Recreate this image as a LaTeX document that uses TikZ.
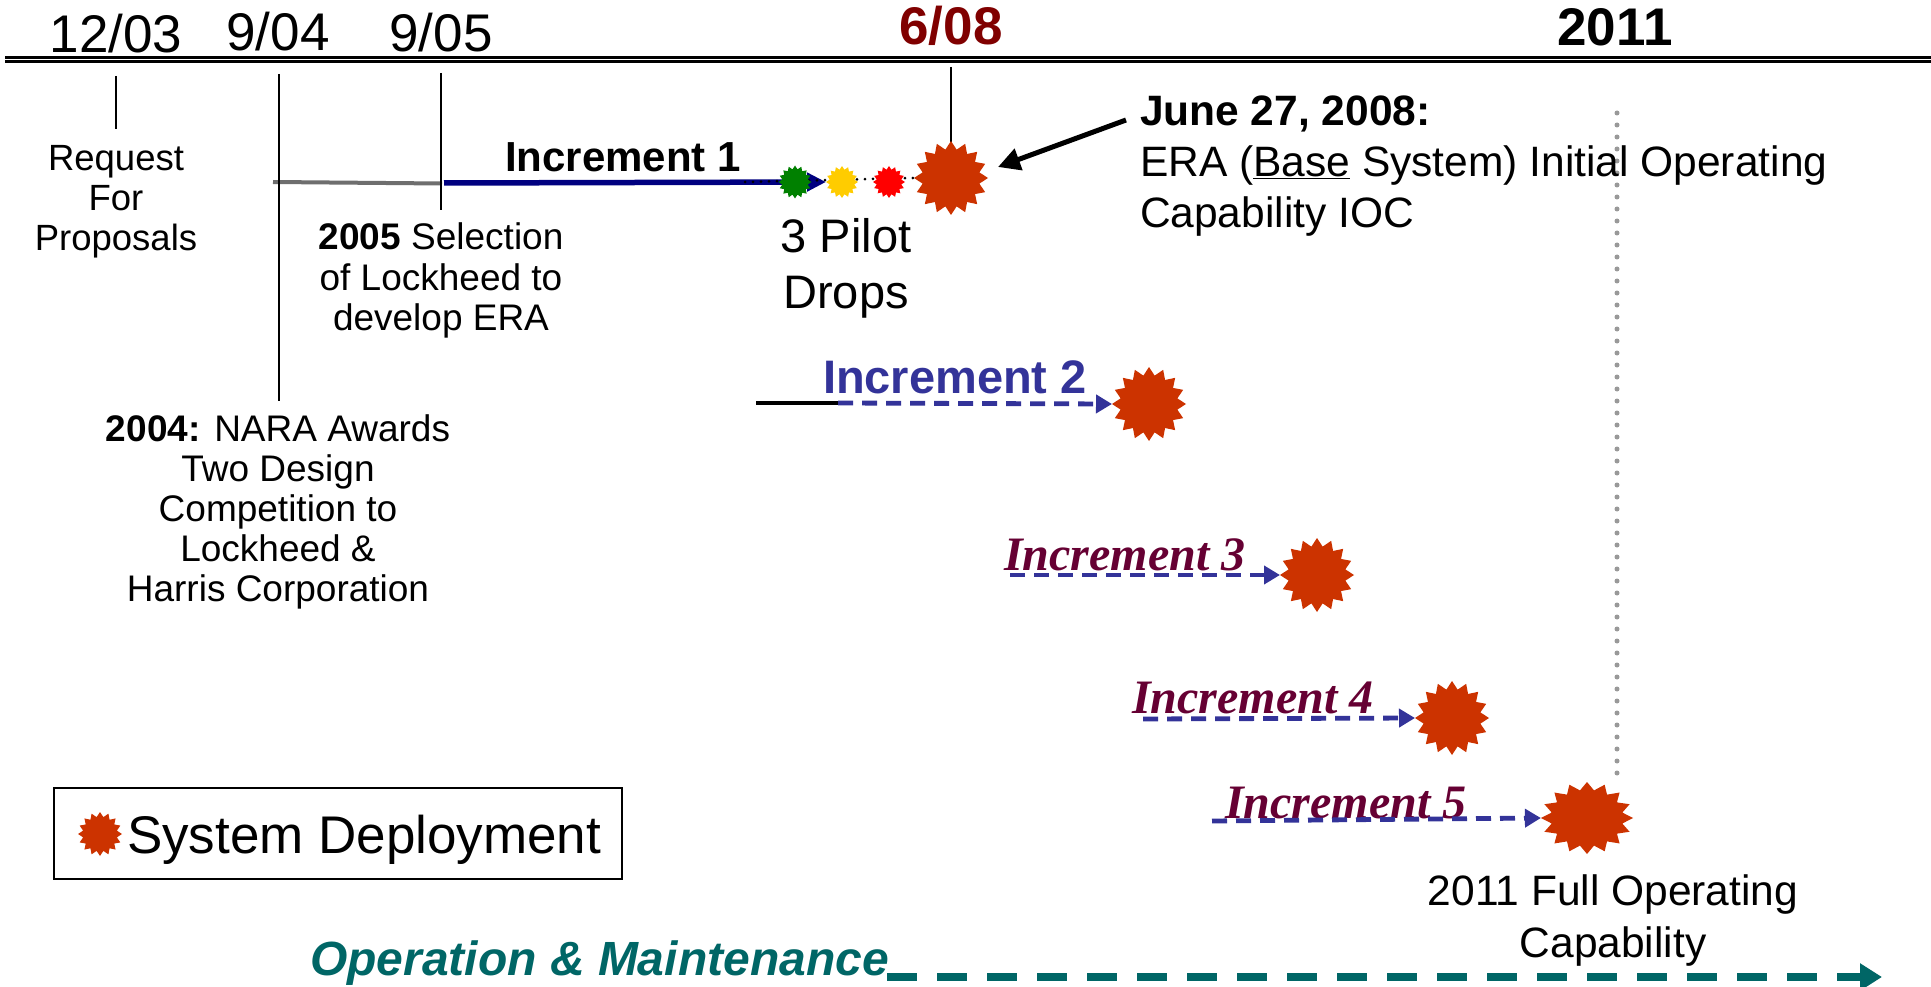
\documentclass[tikz,border=0pt]{standalone}
\usepackage{fontspec}
\setmainfont{Liberation Sans}
\newfontfamily\serifbi{Liberation Serif}
\usetikzlibrary{shapes.geometric,arrows.meta}
\pgfdeclarelayer{paper}
\pgfdeclarelayer{behind}
\pgfsetlayers{paper,behind,main}
\definecolor{cDate}{HTML}{800000}
\definecolor{cBlue}{HTML}{333399}
\definecolor{cMaroon}{HTML}{660033}
\definecolor{cTeal}{HTML}{006666}
\definecolor{cNavy}{HTML}{000080}
\definecolor{cStar}{HTML}{CC3300}
\definecolor{cYellow}{HTML}{FFCC00}
\definecolor{cGreen}{HTML}{008000}
\definecolor{cRed}{HTML}{FF0000}
\definecolor{cDots}{HTML}{999999}
\definecolor{cGrayLine}{HTML}{6E6E6E}
\newcommand{\fsz}[2]{\fontsize{#1}{#2}\selectfont}
\begin{document}
\begin{tikzpicture}[x=1pt,y=-1pt,
  every node/.style={inner sep=0pt,outer sep=0pt},
  dep/.style={star,star points=16,star point ratio=1.28,fill=cStar,draw=none,minimum size=74pt,inner sep=0pt},
  tickline/.style={line width=1.8pt,black},
  incdash/.style={cBlue,line width=4.8pt,dash pattern=on 15pt off 9pt,-{Triangle[length=16pt,width=18pt]}},
  datefont/.style={font=\fsz{53}{60}}
]
\begin{pgfonlayer}{paper}
\fill[white] (0,0) rectangle (1931,987);
\end{pgfonlayer}
\useasboundingbox (0,0) rectangle (1931,987);

% timeline
\draw[line width=2.7pt] (5,57.3) -- (1931,57.3);
\draw[line width=3pt] (5,61.8) -- (1931,61.8);

% dates
\node[anchor=base,datefont] (d1) at (116,53) {12/03};
\node[anchor=base,datefont] (d2) at (278,51) {9/04};
\node[anchor=base,datefont] (d3) at (441,52) {9/05};
\node[anchor=base,font=\bfseries\fsz{53}{60},text=cDate] (d4) at (951,45) {6/08};
\node[anchor=base,font=\bfseries\fsz{53}{60}] (d5) at (1615,46) {2011};

% ticks
\draw[tickline] (116,76) -- (116,129);
\draw[tickline] (279,74) -- (279,401);
\draw[tickline] (441,73) -- (441,210);
\draw[tickline] (951,67) -- (951,145);

% text blocks
\node[anchor=north,align=center,font=\fsz{36.5}{40}] (rfp) at (116,145) {Request\\For\\Proposals};
\node[anchor=north,align=center,font=\fsz{37}{40.5}] (sel) at (441,223) {\textbf{2005} Selection\\of Lockheed to\\develop ERA};
\node[anchor=north,align=center,font=\fsz{37}{40}] (nara) at (278,415) {\textbf{2004:} NARA Awards\\Two Design\\Competition to\\Lockheed \&\\Harris Corporation};
\node[anchor=north west,align=left,font=\fsz{42.5}{51}] (june) at (1140,96) {\textbf{June 27, 2008:}\\ERA (\underline{Base} System) Initial Operating\\Capability IOC};
\node[anchor=north,align=center,font=\fsz{47}{56}] (pilot) at (846,218) {3 Pilot\\Drops};
\node[anchor=north,align=center,font=\fsz{42.5}{52}] (foc) at (1613,875) {2011 Full Operating\\Capability};

% increments labels
\node[anchor=base west,font=\bfseries\fsz{42}{50}] (inc1) at (505,172) {Increment 1};
\node[anchor=base west,font=\bfseries\fsz{47}{50},text=cBlue] (inc2) at (823,393) {Increment 2};
\node[anchor=base west,font=\serifbi\bfseries\itshape\fsz{48}{50},text=cMaroon] (inc3) at (1004,570) {Increment 3};
\node[anchor=base west,font=\serifbi\bfseries\itshape\fsz{48}{50},text=cMaroon] (inc4) at (1132,713) {Increment 4};
\node[anchor=base west,font=\serifbi\bfseries\itshape\fsz{48}{50},text=cMaroon] (inc5) at (1225,818) {Increment 5};
\node[anchor=base west,font=\bfseries\itshape\fsz{48}{50},text=cTeal] (om) at (310,975) {Operation \& Maintenance};

% stars
\node[dep] (s0) at (951,178) {};
\node[dep,minimum size=33pt,fill=cGreen] (sg) at (795,182) {};
\node[dep,minimum size=32pt,fill=cYellow] (sy) at (842,182) {};
\node[dep,minimum size=32pt,fill=cRed] (sr) at (889,182) {};
\node[dep] (s2) at (1149,404) {};
\node[dep] (s3) at (1317,575) {};
\node[dep] (s4) at (1452,718) {};
\node[dep,minimum size=72pt,xscale=1.28] (s5) at (1587,818) {};

% legend
\node[draw,line width=2.5pt,minimum width=568pt,minimum height=91pt] (legend) at (338,833.5) {};
\node[dep,minimum size=44pt] (ls) at (100,834) {};
\node[anchor=base west,font=\fsz{53}{60}] (legtext) at (127,853) {System Deployment};

% coordinates
\coordinate (g0) at (273,182);
\coordinate (g1) at (442,183.5);
\coordinate (n0) at (444,183);
\coordinate (dot0) at (745,182);
\coordinate (jt) at (1126,120);
\coordinate (jtip) at (998,167);
\coordinate (i2b) at (756,403);
\coordinate (i2s) at (838,403);
\coordinate (i3s) at (1010,575);
\coordinate (i4s) at (1143,719);
\coordinate (i5s) at (1212,821);
\coordinate (v0) at (1617,113);
\coordinate (v1) at (1617,776);
\coordinate (oms) at (887,977);
\coordinate (ome) at (1882,977);

\begin{pgfonlayer}{behind}
\draw[line width=4pt,cGrayLine] (g0) -- (g1);
\draw[cNavy,line width=5.5pt,-{Triangle[length=19pt,width=18pt]}] (n0) -- (sy.west);
\draw[black,line width=3pt,line cap=round,dash pattern=on 0pt off 8pt] (dot0) -- (s0.west);
\draw[cDots,line width=5pt,line cap=round,dash pattern=on 0pt off 12pt] (v0) -- (v1);
\end{pgfonlayer}

\draw[black,line width=4.5pt] (i2b) -- (i2s);
\draw[incdash] (i2s) -- (s2.west);
\draw[incdash] (i3s) -- (s3.west);
\draw[incdash] (i4s) -- (s4.west);
\draw[incdash] (i5s) -- (s5.west);

\draw[line width=5pt,-{Triangle[length=22pt,width=22pt]}] (jt) -- (jtip);
\draw[cTeal,line width=8pt,dash pattern=on 30pt off 20pt,-{Triangle[length=22pt,width=26pt]}] (oms) -- (ome);
\end{tikzpicture}
\end{document}
